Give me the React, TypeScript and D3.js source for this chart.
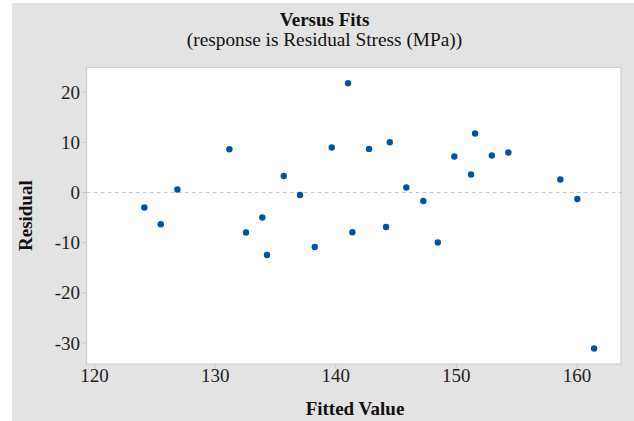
import React from "react";
import * as d3 from "d3";

const fittedValues = [
  124.13, 125.49, 126.87, 131.18, 132.56, 133.91, 134.3, 135.69, 137.04,
  138.26, 139.67, 141.02, 141.38, 142.76, 144.48, 144.17, 145.85, 147.26,
  148.46, 149.83, 151.22, 151.55, 152.94, 154.31, 158.62, 160.03, 161.42,
];
const residuals = [
  -2.99, -6.32, 0.6, 8.64, -7.98, -4.99, -12.45, 3.31, -0.48, -10.85, 8.97,
  21.8, -7.92, 8.7, 10.03, -6.86, 1.0, -1.68, -9.97, 7.18, 3.59, 11.77, 7.38,
  7.98, 2.59, -1.28, -31.11,
];
const xTicks = [120, 130, 140, 150, 160];
const yTicks = [20, 10, 0, -10, -20, -30];

const W = 634;
const H = 421;
const plot = { left: 86.7, right: 621, top: 67.3, bottom: 364 };
const font = "'Liberation Serif', 'Times New Roman', serif";

export default function App() {
  const x = d3.scaleLinear().domain([119.35, 163.65]).range([plot.left, plot.right]);
  const y = d3.scaleLinear().domain([24.98, -34.2]).range([plot.top, plot.bottom]);
  const pts = fittedValues.map((f, i) => ({ f, r: residuals[i] }));
  return (
    <svg
      width={W}
      height={H}
      style={{ position: "absolute", left: 0, top: 0, background: "#fff" }}
    >
      <rect x={12} y={3} width={W - 12} height={H - 3} fill="#e3e3e3" />
      <rect
        x={plot.left}
        y={plot.top}
        width={plot.right - plot.left}
        height={plot.bottom - plot.top}
        fill="#fff"
        stroke="#c8c8c8"
        strokeWidth={1}
      />
      <text x={324.5} y={26} textAnchor="middle" fontFamily={font} fontWeight="bold" fontSize={19} fill="#111">
        Versus Fits
      </text>
      <text x={324.5} y={46} textAnchor="middle" fontFamily={font} fontSize={19.3} fill="#111">
        (response is Residual Stress (MPa))
      </text>
      <line
        x1={plot.left}
        x2={plot.right}
        y1={y(0)}
        y2={y(0)}
        stroke="#c8c8c8"
        strokeDasharray="4,3"
        strokeWidth={1}
      />
      {yTicks.map((t) => (
        <g key={"y" + t}>
          <line x1={plot.left - 4.5} x2={plot.left} y1={y(t)} y2={y(t)} stroke="#c8c8c8" />
          <text
            x={80}
            y={y(t)}
            dy="0.35em"
            textAnchor="end"
            fontFamily={font}
            fontSize={19}
            fill="#222"
          >
            {t}
          </text>
        </g>
      ))}
      {xTicks.map((t) => (
        <g key={"x" + t}>
          <line x1={x(t)} x2={x(t)} y1={plot.bottom} y2={plot.bottom + 4.5} stroke="#c8c8c8" />
          <text
            x={x(t)}
            y={382}
            textAnchor="middle"
            fontFamily={font}
            fontSize={19}
            fill="#222"
          >
            {t}
          </text>
        </g>
      ))}
      <text x={355} y={415} textAnchor="middle" fontFamily={font} fontWeight="bold" fontSize={19} fill="#111">
        Fitted Value
      </text>
      <text
        transform={`translate(32, ${(plot.top + plot.bottom) / 2}) rotate(-90)`}
        textAnchor="middle"
        fontFamily={font}
        fontWeight="bold"
        fontSize={19}
        fill="#111"
      >
        Residual
      </text>
      {pts.map((p, i) => (
        <circle key={i} cx={x(p.f)} cy={y(p.r)} r={3.2} fill="#0054a6" />
      ))}
    </svg>
  );
}
